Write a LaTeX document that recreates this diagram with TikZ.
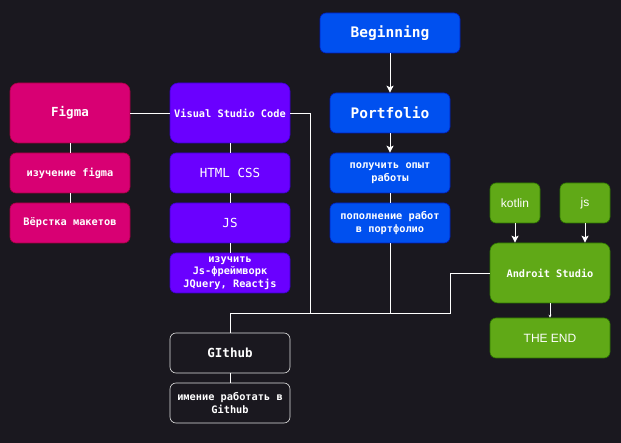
\documentclass[tikz,border=0pt]{standalone}
\usepackage{fontspec}
\newfontfamily\monof{DejaVu Sans Mono}
\newfontfamily\arialf{Liberation Sans}
\usetikzlibrary{arrows.meta}
\definecolor{bg}{HTML}{1A181F}
\definecolor{magf}{HTML}{D80073}
\definecolor{magd}{HTML}{A50040}
\definecolor{purf}{HTML}{6A00FF}
\definecolor{purd}{HTML}{3700CC}
\definecolor{bluf}{HTML}{0050EF}
\definecolor{blud}{HTML}{001DBC}
\definecolor{grnf}{HTML}{60A917}
\definecolor{grnd}{HTML}{2D7600}
\tikzset{
  box/.style={rounded corners=6pt, draw, line width=0.6pt, text=white, align=center,
    inner sep=0pt, minimum width=120pt, minimum height=40pt,
    font=\monof\bfseries\fontsize{10.3}{12.8}\selectfont},
  tall/.style={minimum height=60pt, rounded corners=8pt},
  bigtxt/.style={font=\monof\bfseries\fontsize{12.5}{15}\selectfont},
  regtxt/.style={font=\monof\fontsize{12.5}{15}\selectfont},
  hugetxt/.style={font=\monof\bfseries\fontsize{14.5}{17}\selectfont},
  sanstxt/.style={font=\arialf\fontsize{12}{14}\selectfont},
  mag/.style={box, fill=magf, draw=magd},
  pur/.style={box, fill=purf, draw=purd},
  blu/.style={box, fill=bluf, draw=blud},
  grn/.style={box, fill=grnf, draw=grnd},
  outl/.style={box, fill=bg, draw=white!88!black},
  conn/.style={draw=white, line width=0.9pt},
  arr/.style={conn, -{Stealth[length=7pt,width=7pt,inset=1.5pt]}},
  sarr/.style={conn, -{Stealth[length=3pt,width=3pt]}}
}
\begin{document}
\begin{tikzpicture}[x=1pt,y=-1pt]
\fill[bg] (0,0) rectangle (621,443);
\useasboundingbox (0,0) rectangle (621,443);

% magenta column
\node[mag, tall, bigtxt] (figma) at (70,113) {Figma};
\node[mag] (izf) at (70,173) {изучение figma};
\node[mag] (verst) at (70,223) {Вёрстка макетов};

% purple column
\node[pur, tall] (vsc) at (230,113) {Visual Studio Code};
\node[pur, regtxt] (html) at (230,173) {HTML CSS};
\node[pur, regtxt] (jsn) at (230,223) {JS};
\node[pur] (fw) at (230,273) {изучить\\Js-фреймворк\\JQuery, Reactjs};

% blue column
\node[blu, hugetxt, minimum width=140pt] (beg) at (390,33) {Beginning};
\node[blu, hugetxt] (port) at (390,113) {Portfolio};
\node[blu] (opyt) at (390,173) {получить опыт\\работы};
\node[blu] (popol) at (390,223) {пополнение работ\\в портфолио};

% green
\node[grn, sanstxt, minimum width=50pt] (kotlin) at (515,203) {kotlin};
\node[grn, sanstxt, minimum width=50pt] (jsg) at (585,203) {js};
\node[grn, tall] (android) at (550,273) {Androit Studio};
\node[grn, sanstxt] (theend) at (550,338) {THE END};

% github
\node[outl, bigtxt] (github) at (230,353) {GIthub};
\node[outl] (imen) at (230,403) {имение работать в\\Github};

% junctions
\coordinate (j1) at (310,313);
\coordinate (jp) at (390,313);
\coordinate (j2) at (450,313);

% connectors
\draw[conn] (figma) -- (vsc);
\draw[conn] (figma) -- (izf);
\draw[conn] (izf) -- (verst);
\draw[conn] (vsc) -- (html);
\draw[conn] (html) -- (jsn);
\draw[conn] (jsn) -- (fw);
\draw[conn] (vsc.east) -| (j1) -| (github.north);
\draw[conn] (j1) -- (jp);
\draw[conn] (popol.south) |- (j2) |- (android.west);
\draw[arr] (beg) -- (port);
\draw[arr] (port) -- (opyt);
\draw[conn] (opyt) -- (popol);
\draw[arr] (kotlin.south) -- (kotlin.south |- android.north);
\draw[arr] (jsg.south) -- (jsg.south |- android.north);
\draw[sarr] (android) -- (theend);
\draw[conn] (github) -- (imen);
\end{tikzpicture}
\end{document}
